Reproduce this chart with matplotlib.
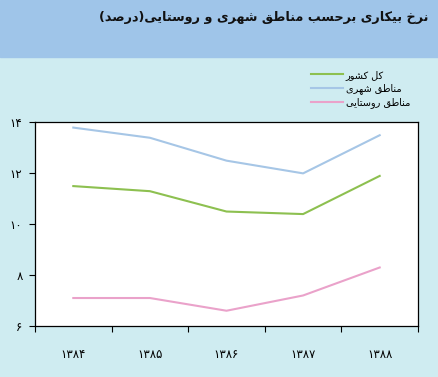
import matplotlib
matplotlib.use("Agg")
import matplotlib.pyplot as plt

# Data (unemployment rate, percent)
years = ["۱۳۸۴", "۱۳۸۵", "۱۳۸۶", "۱۳۸۷", "۱۳۸۸"]
total = [11.5, 11.3, 10.5, 10.4, 11.9]
urban = [13.8, 13.4, 12.5, 12.0, 13.5]
rural = [7.1, 7.1, 6.6, 7.2, 8.3]
y_ticks = [6, 8, 10, 12, 14]
y_tick_labels = ["۶", "۸", "۱۰", "۱۲", "۱۴"]

title = "نرخ بیکاری برحسب مناطق شهری و روستایی(درصد)"
labels = ["کل کشور", "مناطق شهری", "مناطق روستایی"]

# minimal arabic/persian shaping (matplotlib has no complex text layout)
FORMS = {
    "ا": (0xFE8D, 0xFE8E), "د": (0xFEA9, 0xFEAA), "ر": (0xFEAD, 0xFEAE),
    "و": (0xFEED, 0xFEEE),
    "ب": (0xFE8F, 0xFE90, 0xFE91, 0xFE92), "ت": (0xFE95, 0xFE96, 0xFE97, 0xFE98),
    "ح": (0xFEA1, 0xFEA2, 0xFEA3, 0xFEA4), "خ": (0xFEA5, 0xFEA6, 0xFEA7, 0xFEA8),
    "س": (0xFEB1, 0xFEB2, 0xFEB3, 0xFEB4), "ش": (0xFEB5, 0xFEB6, 0xFEB7, 0xFEB8),
    "ص": (0xFEB9, 0xFEBA, 0xFEBB, 0xFEBC), "ط": (0xFEC1, 0xFEC2, 0xFEC3, 0xFEC4),
    "ق": (0xFED5, 0xFED6, 0xFED7, 0xFED8), "ل": (0xFEDD, 0xFEDE, 0xFEDF, 0xFEE0),
    "م": (0xFEE1, 0xFEE2, 0xFEE3, 0xFEE4), "ن": (0xFEE5, 0xFEE6, 0xFEE7, 0xFEE8),
    "ه": (0xFEE9, 0xFEEA, 0xFEEB, 0xFEEC), "ک": (0xFB8E, 0xFB8F, 0xFB90, 0xFB91),
    "ی": (0xFBFC, 0xFBFD, 0xFBFE, 0xFBFF),
}


def shape(s):
    out = []
    for i, c in enumerate(s):
        if c not in FORMS:
            out.append(c)
            continue
        prev = s[i - 1] if i > 0 else ""
        nxt = s[i + 1] if i + 1 < len(s) else ""
        jp = prev in FORMS and len(FORMS[prev]) == 4
        jn = len(FORMS[c]) == 4 and nxt in FORMS
        f = FORMS[c]
        if jp and jn:
            g = f[3]
        elif jp:
            g = f[1]
        elif jn:
            g = f[2]
        else:
            g = f[0]
        out.append(chr(g))
    vis = "".join(reversed(out))
    return vis.translate(str.maketrans("()", ")("))


plt.rcParams["font.family"] = ["DejaVu Sans"]

fig = plt.figure(figsize=(4.38, 3.77), dpi=100)
fig.patch.set_facecolor("#cfecf1")
band = plt.Rectangle((0, 1 - 57 / 377), 1, 57 / 377, transform=fig.transFigure,
                     color="#9fc5e9", zorder=0)
fig.patches.append(band)
fig.text(428 / 438, 1 - 18 / 377, shape(title), ha="right", va="center",
         fontsize=9.2, fontweight="bold", color="#111111")

ax = fig.add_axes([35 / 438, 1 - 326 / 377, 383 / 438, 203.5 / 377])
ax.set_facecolor("white")
x = list(range(len(years)))
l1, = ax.plot(x, total, color="#8dc050", lw=1.5)
l2, = ax.plot(x, urban, color="#a6c6e6", lw=1.5)
l3, = ax.plot(x, rural, color="#eaa2ca", lw=1.5)

ax.set_xlim(-0.5, len(years) - 0.5)
ax.set_ylim(6, 14)
ax.set_xticks([i - 0.5 for i in range(len(years) + 1)])
ax.set_xticklabels([])
ax.set_xticks(x, minor=True)
ax.set_xticklabels(years, minor=True)
ax.tick_params(axis="x", which="major", direction="out", length=4.5, width=0.8)
ax.tick_params(axis="x", which="minor", length=0, pad=16, labelsize=8.5)
ax.set_yticks(y_ticks)
ax.set_yticklabels(y_tick_labels)
ax.tick_params(axis="y", direction="out", length=4, width=0.8, pad=5, labelsize=8.5)
for sp in ax.spines.values():
    sp.set_linewidth(0.9)

fig.legend([l1, l2, l3], [shape(t) for t in labels], loc="upper left",
           bbox_to_anchor=(302 / 438, 1 - 61 / 377), frameon=False,
           fontsize=7, handlelength=3.3, handletextpad=0.3, labelspacing=0.35)

fig.savefig("out.png", dpi=100, facecolor=fig.get_facecolor())
